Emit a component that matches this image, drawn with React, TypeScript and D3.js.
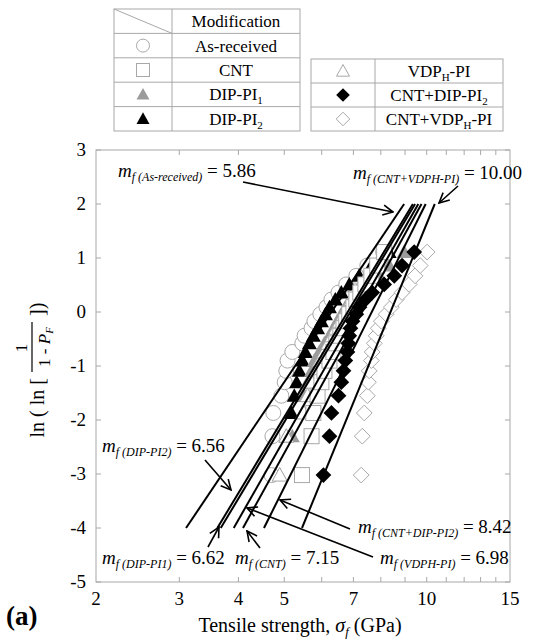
import * as d3 from "d3";

// Weibull plotting positions ln(ln(1/(1-F))) for the 20 ranked fibres
const rankY = [-3.02, -2.3, -1.87, -1.55, -1.3, -1.09, -0.9, -0.74, -0.58, -0.44, -0.3, -0.17, -0.04, 0.09, 0.23, 0.36, 0.51, 0.67, 0.86, 1.11];

// tensile strength (GPa) of each series
const asReceived = [4.7, 4.72, 4.74, 4.93, 5.01, 5.05, 5.08, 5.2, 5.46, 5.52, 5.71, 5.79, 5.96, 6.14, 6.29, 6.51, 6.76, 7.1, 7.49, 8.09];
const cnt = [5.45, 5.71, 5.76, 5.88, 5.99, 6.08, 6.23, 6.35, 6.44, 6.57, 6.67, 6.76, 6.86, 7.0, 7.1, 7.24, 7.42, 7.64, 7.86, 8.13];
const dipPi1 = [4.89, 5.2, 5.46, 5.52, 5.6, 5.71, 5.79, 5.93, 6.08, 6.23, 6.35, 6.47, 6.6, 6.73, 6.93, 7.2, 7.49, 7.94, 8.33, 8.96];
const dipPi2 = [4.89, 5.05, 5.18, 5.25, 5.31, 5.38, 5.46, 5.54, 5.65, 5.76, 5.88, 5.99, 6.11, 6.23, 6.41, 6.6, 6.86, 7.2, 7.64, 8.33];
const vdphPi = [4.89, 5.05, 5.5, 5.6, 5.72, 5.83, 5.95, 6.08, 6.2, 6.32, 6.44, 6.56, 6.68, 6.8, 6.93, 7.08, 7.26, 7.48, 7.75, 8.1];
const cntDipPi2 = [6.05, 6.23, 6.29, 6.51, 6.6, 6.67, 6.73, 6.8, 6.83, 6.86, 6.9, 6.97, 7.1, 7.21, 7.42, 7.67, 8.13, 8.54, 8.87, 9.41];
const cntVdphPi = [7.27, 7.31, 7.38, 7.49, 7.53, 7.56, 7.64, 7.67, 7.75, 7.82, 7.9, 8.02, 8.21, 8.42, 8.62, 8.87, 9.18, 9.45, 9.69, 10.02];

// fitted Weibull lines: strength at the low end (y=-4) and the high end (y=2)
const lineYLow = -4;
const lineYHigh = 2;
const lineNames = ["As-received", "DIP-PI2", "DIP-PI1", "VDPH-PI", "CNT", "CNT+DIP-PI2", "CNT+VDPH-PI"];
const lineLow = [3.1, 3.61, 3.67, 3.91, 4.09, 4.53, 5.45];
const lineHigh = [8.96, 9.35, 9.45, 9.6, 9.75, 9.95, 10.4];

const xTickLabels = [2, 3, 4, 5, 7, 10, 15];
const xMinorTicks = [3, 4, 5, 6, 7, 8, 9, 10, 11, 12, 13, 14];
const yTicks = [-5, -4, -3, -2, -1, 0, 1, 2, 3];

const GRAY = "#a8a8a8";
const SERIF = "'Liberation Serif', 'Times New Roman', serif";

type Kind = "circle" | "square" | "triGray" | "triBlack" | "triOpen" | "diaBlack" | "diaOpen";

// drawing order as in the original: open triangles sit over the filled ones, squares over those
const series: { data: number[]; kind: Kind }[] = [
  { data: asReceived, kind: "circle" },
  { data: dipPi2, kind: "triBlack" },
  { data: dipPi1, kind: "triGray" },
  { data: vdphPi, kind: "triOpen" },
  { data: cnt, kind: "square" },
  { data: cntVdphPi, kind: "diaOpen" },
  { data: cntDipPi2, kind: "diaBlack" },
];

function Marker({ kind, x, y, s }: { kind: Kind; x: number; y: number; s: number }) {
  const h = s / 2;
  if (kind === "circle")
    return <circle cx={x} cy={y} r={h} fill="#fff" stroke={GRAY} strokeWidth={1} />;
  if (kind === "square")
    return <rect x={x - h} y={y - h} width={s} height={s} fill="#fff" stroke={GRAY} strokeWidth={1} />;
  if (kind.startsWith("tri")) {
    const pts = `${x},${y - h} ${x + h},${y + h * 0.8} ${x - h},${y + h * 0.8}`;
    const fill = kind === "triGray" ? "#9b9b9b" : kind === "triBlack" ? "#000" : "#fff";
    return <polygon points={pts} fill={fill} stroke={kind === "triOpen" ? GRAY : "none"} strokeWidth={1} />;
  }
  const d = h * 1.05;
  const pts = `${x},${y - d} ${x + d},${y} ${x},${y + d} ${x - d},${y}`;
  return kind === "diaBlack" ? (
    <polygon points={pts} fill="#000" />
  ) : (
    <polygon points={pts} fill="#fff" stroke={GRAY} strokeWidth={1} />
  );
}

function MLabel({ x, y, sub, value }: { x: number; y: number; sub: string; value: string }) {
  return (
    <text x={x} y={y} fontFamily={SERIF} fontSize={19} fill="#000">
      <tspan fontStyle="italic">m</tspan>
      <tspan fontStyle="italic" fontSize={12} dy={4}>{`f (${sub})`}</tspan>
      <tspan dy={-4}>{` = ${value}`}</tspan>
    </text>
  );
}

export default function App() {
  const width = 538;
  const height = 644;
  const left = 96, right = 510, top = 150, bottom = 582;

  const x = d3.scaleLog().domain([2, 15]).range([left, right]);
  const y = d3.scaleLinear().domain([-5, 3]).range([bottom, top]);

  const lineGen = d3.line<[number, number]>().x((d) => x(d[0])).y((d) => y(d[1]));

  const leftRows = [
    { kind: "circle" as Kind, label: <tspan>As-received</tspan> },
    { kind: "square" as Kind, label: <tspan>CNT</tspan> },
    { kind: "triGray" as Kind, label: <><tspan>DIP-PI</tspan><tspan fontSize={11} dy={4}>1</tspan></> },
    { kind: "triBlack" as Kind, label: <><tspan>DIP-PI</tspan><tspan fontSize={11} dy={4}>2</tspan></> },
  ];
  const rightRows = [
    { kind: "triOpen" as Kind, label: <><tspan>VDP</tspan><tspan fontSize={11} dy={4}>H</tspan><tspan dy={-4}>-PI</tspan></> },
    { kind: "diaBlack" as Kind, label: <><tspan>CNT+DIP-PI</tspan><tspan fontSize={11} dy={4}>2</tspan></> },
    { kind: "diaOpen" as Kind, label: <><tspan>CNT+VDP</tspan><tspan fontSize={11} dy={4}>H</tspan><tspan dy={-4}>-PI</tspan></> },
  ];

  const lt = { x0: 114, x1: 172, x2: 300, y0: 9, rh: 24.4 };
  const rt = { x0: 311, x1: 375, x2: 503, y0: 59, rh: 24 };

  return (
    <svg width={width} height={height} style={{ position: "absolute", left: 0, top: 0, background: "#fff" }}>
      <defs>
        <marker id="arr" viewBox="0 0 12 12" refX={11} refY={6} markerWidth={12} markerHeight={12} markerUnits="userSpaceOnUse" orient="auto">
          <path d="M1,1 L11,6 L1,11" fill="none" stroke="#000" strokeWidth={1.6} />
        </marker>
      </defs>

      {/* legend tables */}
      <g stroke={GRAY} strokeWidth={1} fill="none">
        <rect x={lt.x0} y={lt.y0} width={lt.x2 - lt.x0} height={lt.rh * 5} />
        {[1, 2, 3, 4].map((i) => (
          <line key={i} x1={lt.x0} x2={lt.x2} y1={lt.y0 + lt.rh * i} y2={lt.y0 + lt.rh * i} />
        ))}
        <line x1={lt.x1} x2={lt.x1} y1={lt.y0} y2={lt.y0 + lt.rh * 5} />
        <line x1={lt.x0} x2={lt.x1} y1={lt.y0} y2={lt.y0 + lt.rh} />
        <rect x={rt.x0} y={rt.y0} width={rt.x2 - rt.x0} height={rt.rh * 3} />
        {[1, 2].map((i) => (
          <line key={i} x1={rt.x0} x2={rt.x2} y1={rt.y0 + rt.rh * i} y2={rt.y0 + rt.rh * i} />
        ))}
        <line x1={rt.x1} x2={rt.x1} y1={rt.y0} y2={rt.y0 + rt.rh * 3} />
      </g>
      <g fontFamily={SERIF} fontSize={17} fill="#000" textAnchor="middle">
        <text x={(lt.x1 + lt.x2) / 2} y={lt.y0 + lt.rh * 0.5 + 6}>Modification</text>
        {leftRows.map((r, i) => (
          <g key={i}>
            <Marker kind={r.kind} x={(lt.x0 + lt.x1) / 2} y={lt.y0 + lt.rh * (i + 1.5)} s={13} />
            <text x={(lt.x1 + lt.x2) / 2} y={lt.y0 + lt.rh * (i + 1.5) + 6}>{r.label}</text>
          </g>
        ))}
        {rightRows.map((r, i) => (
          <g key={i}>
            <Marker kind={r.kind} x={(rt.x0 + rt.x1) / 2} y={rt.y0 + rt.rh * (i + 0.5)} s={13} />
            <text x={(rt.x1 + rt.x2) / 2} y={rt.y0 + rt.rh * (i + 0.5) + 6}>{r.label}</text>
          </g>
        ))}
      </g>

      {/* frame and ticks */}
      <rect x={left} y={top} width={right - left} height={bottom - top} fill="none" stroke={GRAY} strokeWidth={1} />
      <g stroke={GRAY} strokeWidth={1}>
        {xMinorTicks.map((t) => (
          <g key={t}>
            <line x1={x(t)} x2={x(t)} y1={bottom} y2={bottom - 5} />
            <line x1={x(t)} x2={x(t)} y1={top} y2={top + 5} />
          </g>
        ))}
        {yTicks.map((t) => (
          <g key={t}>
            <line x1={left} x2={left + 5} y1={y(t)} y2={y(t)} />
            <line x1={right} x2={right - 5} y1={y(t)} y2={y(t)} />
          </g>
        ))}
      </g>
      <g fontFamily={SERIF} fontSize={19} fill="#000">
        {xTickLabels.map((t) => (
          <text key={t} x={x(t)} y={bottom + 23} textAnchor="middle">{t}</text>
        ))}
        {yTicks.map((t) => (
          <text key={t} x={left - 10} y={y(t) + 6} textAnchor="end">{t}</text>
        ))}
      </g>

      {/* data */}
      {series.map((s, si) => (
        <g key={si}>
          {s.data.map((v, i) => (
            <Marker key={i} kind={s.kind} x={x(v)} y={y(rankY[i])} s={15} />
          ))}
        </g>
      ))}

      {/* Weibull fit lines */}
      {lineNames.map((n, i) => (
        <path
          key={n}
          d={lineGen([[lineLow[i], lineYLow], [lineHigh[i], lineYHigh]]) || ""}
          stroke="#000"
          strokeWidth={2}
          fill="none"
        />
      ))}

      {/* annotations */}
      <g stroke="#000" strokeWidth={1.6} fill="none">
        <line x1={243} y1={182} x2={393} y2={212} markerEnd="url(#arr)" />
        <line x1={458} y1={186} x2={439} y2={203} markerEnd="url(#arr)" />
        <line x1={205} y1={460} x2={231} y2={490} markerEnd="url(#arr)" />
        <line x1={208} y1={547} x2={219} y2={527} markerEnd="url(#arr)" />
        <line x1={260} y1={548} x2={247} y2={531} markerEnd="url(#arr)" />
        <line x1={350} y1={529} x2={280} y2={500} markerEnd="url(#arr)" />
        <line x1={373} y1={557} x2={247} y2={508} markerEnd="url(#arr)" />
      </g>
      <MLabel x={118} y={177} sub="As-received" value="5.86" />
      <MLabel x={353} y={179} sub="CNT+VDPH-PI" value="10.00" />
      <MLabel x={102} y={452} sub="DIP-PI2" value="6.56" />
      <MLabel x={102} y={564} sub="DIP-PI1" value="6.62" />
      <MLabel x={235} y={564} sub="CNT" value="7.15" />
      <MLabel x={358} y={533} sub="CNT+DIP-PI2" value="8.42" />
      <MLabel x={380} y={564} sub="VDPH-PI" value="6.98" />

      {/* axis titles */}
      <text x={300} y={632} textAnchor="middle" fontFamily={SERIF} fontSize={20} fill="#000">
        <tspan>Tensile strength, </tspan>
        <tspan fontStyle="italic">σ</tspan>
        <tspan fontStyle="italic" fontSize={13} dy={4}>f</tspan>
        <tspan dy={-4}> (GPa)</tspan>
      </text>
      <g transform="translate(37,366) rotate(-90)" fontFamily={SERIF} fontSize={20} fill="#000">
        <text x={-12} y={7} textAnchor="end">ln ( ln [</text>
        <text x={18} y={-10} textAnchor="middle" fontSize={17}>1</text>
        <line x1={-6} x2={44} y1={-5} y2={-5} stroke="#000" strokeWidth={1.2} />
        <text x={19} y={13} textAnchor="middle" fontSize={17}>
          <tspan>1 - </tspan>
          <tspan fontStyle="italic">P</tspan>
          <tspan fontStyle="italic" fontSize={11} dy={3}>F</tspan>
        </text>
        <text x={50} y={7} textAnchor="start">])</text>
      </g>
      <text x={6} y={625} fontFamily={SERIF} fontSize={27} fontWeight="bold" fill="#000">(a)</text>
    </svg>
  );
}
